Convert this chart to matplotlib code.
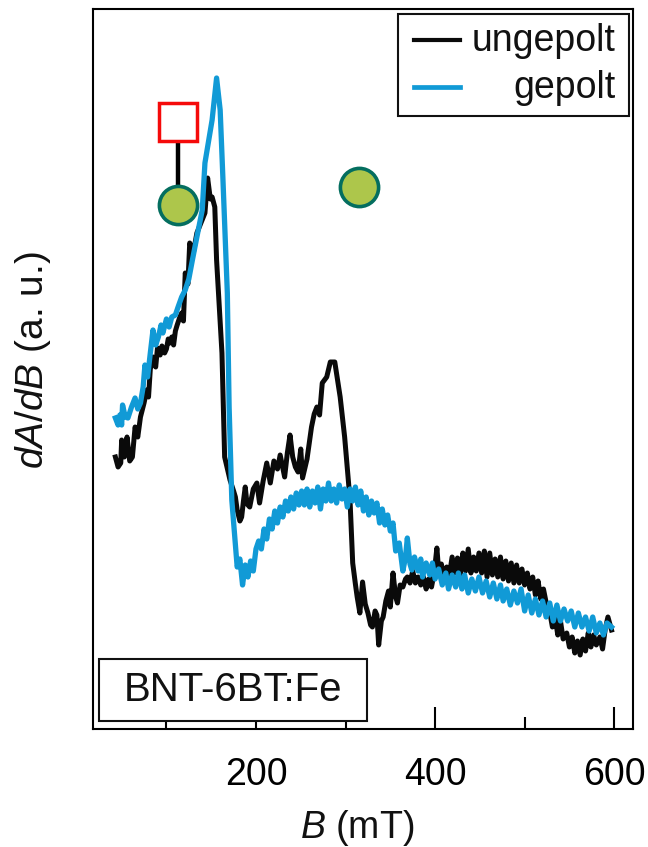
import matplotlib
matplotlib.use('Agg')
import matplotlib.pyplot as plt
from matplotlib.patches import Rectangle

plt.rcParams['font.family'] = ['Liberation Sans', 'DejaVu Sans']
plt.rcParams['mathtext.fontset'] = 'custom'
plt.rcParams['mathtext.rm'] = 'Liberation Sans'
plt.rcParams['mathtext.it'] = 'Liberation Sans:italic'

# values: B in mT, dA/dB in arbitrary units
b_ungepolt = [43, 46, 49, 50, 53, 56, 59, 62, 65, 68, 71, 75, 78, 80, 82, 85, 88, 90, 93, 95, 98, 100, 102, 104, 106, 108, 110, 112,
              115, 117, 119, 121, 124, 126, 130, 134, 138, 143, 146, 149, 151, 154, 156, 162, 165, 171, 175,
              177, 179, 182, 184, 186, 188, 190, 193, 197, 201, 204, 208, 212, 216, 220, 224, 227, 232, 235, 238,
              241, 244, 247, 250, 252, 257, 262, 265, 268, 271, 274, 279, 283, 288, 294, 299, 305, 308, 311, 313,
              316, 319, 322, 325, 328, 330, 333, 335, 337, 340, 342, 345, 348, 350, 353, 356, 358, 361, 364, 367,
              369, 372, 375, 378, 381, 384, 387, 390, 393, 396, 399, 402, 404, 407, 410, 413, 416, 419, 422, 425,
              428, 431, 434, 437, 440, 443, 446, 449, 452, 455, 458, 461, 464, 467, 470, 473, 476, 479, 482, 485,
              488, 491, 494, 497, 500, 503, 506, 509, 512, 515, 518, 521, 525, 529, 531, 534, 537, 540, 543, 547,
              550, 553, 556, 559, 562, 565, 568, 571, 574, 577, 580, 584, 587, 590, 593, 597]
y_ungepolt = [272, 262, 266, 289, 272, 292, 268, 272, 302, 292, 312, 326, 339, 332, 360, 372, 362, 381, 374, 383, 376, 380, 390, 386, 392, 384,
              398, 404, 412, 416, 408, 456, 445, 486, 476, 496, 505, 516, 551, 530, 532, 522, 469, 376, 272, 249, 238,
              232, 219, 208, 212, 228, 242, 225, 222, 240, 246, 226, 248, 266, 246, 268, 260, 274, 252, 276, 294,
              272, 262, 257, 280, 251, 270, 302, 315, 322, 314, 346, 352, 367, 367, 332, 292, 229, 166, 145, 132,
              116, 147, 125, 116, 104, 102, 118, 114, 84, 108, 112, 128, 138, 122, 156, 132, 126, 144, 142, 150,
              152, 146, 158, 146, 152, 144, 152, 140, 150, 142, 156, 181, 158, 165, 150, 162, 154, 172, 156, 171,
              155, 176, 158, 180, 156, 172, 158, 176, 156, 178, 152, 176, 154, 170, 152, 172, 150, 168, 148, 166,
              146, 164, 146, 160, 144, 156, 140, 152, 134, 148, 130, 140, 122, 112, 102, 112, 94, 108, 90, 96,
              82, 92, 76, 88, 74, 90, 78, 96, 82, 94, 84, 92, 80, 100, 112, 99]

b_gepolt = [43, 46, 48, 50, 51, 54, 57, 61, 65, 68, 71, 74, 76, 79, 82, 85, 88, 91, 94, 96, 100, 103, 106, 110, 113, 117, 121, 125, 129,
            134, 140, 143, 151, 156, 160, 163, 168, 170, 173, 179, 182, 185, 188, 191, 194, 197, 200, 203, 206, 209, 212,
            215, 218, 221, 224, 227, 230, 233, 236, 239, 242, 245, 248, 251, 254, 257, 260, 263, 266, 269, 272,
            275, 278, 281, 284, 287, 290, 293, 296, 299, 302, 305, 308, 311, 314, 317, 320, 323, 326, 329, 332,
            335, 338, 341, 344, 347, 350, 353, 356, 360, 364, 367, 369, 372, 374, 377, 381, 384, 386, 390, 394,
            397, 400, 404, 408, 412, 415, 419, 423, 426, 430, 433, 437, 441, 445, 449, 453, 457, 461, 465, 469,
            473, 476, 480, 484, 488, 492, 496, 500, 504, 508, 512, 516, 520, 524, 528, 532, 536, 540, 544, 548,
            552, 556, 560, 564, 568, 572, 576, 580, 584, 588, 592, 597]
y_gepolt = [311, 304, 314, 304, 324, 312, 311, 322, 331, 320, 326, 342, 364, 352, 376, 399, 384, 392, 404, 396, 410, 402, 412, 414, 422, 432, 439, 450, 469,
            492, 519, 566, 609, 651, 619, 552, 436, 322, 229, 162, 170, 144, 164, 152, 168, 158, 180, 188, 180, 200, 190,
            210, 200, 218, 206, 222, 212, 228, 218, 232, 220, 236, 224, 238, 224, 240, 222, 238, 226, 242, 220,
            240, 228, 246, 228, 240, 226, 244, 230, 240, 222, 240, 228, 242, 224, 238, 218, 232, 214, 228, 216,
            226, 206, 220, 204, 214, 198, 206, 178, 186, 158, 172, 191, 165, 159, 172, 158, 170, 152, 166, 154,
            166, 150, 160, 144, 156, 140, 154, 142, 156, 140, 154, 136, 150, 138, 152, 136, 148, 132, 146, 130,
            144, 128, 140, 124, 138, 126, 140, 118, 134, 116, 130, 114, 128, 112, 126, 108, 124, 108, 120, 108,
            118, 102, 116, 102, 112, 98, 112, 96, 106, 94, 106, 102]

legend_labels = ['ungepolt', 'gepolt']
sample_label = 'BNT-6BT:Fe'
major_ticks = [200, 400, 600]
minor_ticks = [100, 300, 500]

W, H = 648, 847
fig = plt.figure(figsize=(W/100, H/100), dpi=100)
ax = fig.add_axes([93/W, 1-729/H, 540/W, 720/H])

ax.plot(b_ungepolt, y_ungepolt, color='#0a0a0a', lw=3.6, solid_joinstyle='round', zorder=2)
ax.plot(b_gepolt, y_gepolt, color='#119ad6', lw=3.8, solid_joinstyle='round', zorder=3)

# pinned site marker and the second site
ax.plot([113, 113], [530, 590], color='k', lw=3.2, zorder=4)
ax.plot([113], [607], 's', ms=27.5, mfc='white', mec='#f50a0a', mew=2.5, zorder=5)
ax.plot([113, 315], [524, 542], 'o', ms=27.5, mfc='#adc64b', mec='#046e5f', mew=2.6, zorder=5)

ax.set_xlim(18, 621)
ax.set_ylim(0, 720)
ax.set_yticks([])
ax.set_xticks(major_ticks)
ax.set_xticks(minor_ticks, minor=True)
ax.tick_params(axis='x', which='major', direction='in', length=16, width=1.5, labelsize=27, pad=20)
ax.tick_params(axis='x', which='minor', direction='in', length=8.5, width=1.5)
for s in ax.spines.values():
    s.set_linewidth(1.5)

# hand placed boxes and texts, given in figure pixels
def fx(px):
    return px/W

def fy(py):
    return 1-py/H

fig.add_artist(Rectangle((fx(98.5), fy(721)), 268.5/W, 62/H, fc='white', ec='#111111', lw=1.5, zorder=6))
fig.text(fx(233), fy(690), sample_label, fontsize=29, ha='center', va='center', color='#111111', zorder=7)

fig.add_artist(Rectangle((fx(398), fy(116)), 231/W, 102/H, fc='white', ec='#111111', lw=1.5, zorder=6))
fig.add_artist(plt.Line2D([fx(414), fx(460)], [fy(40), fy(40)], color='#0a0a0a', lw=3, zorder=7))
fig.add_artist(plt.Line2D([fx(414), fx(460)], [fy(87), fy(87)], color='#119ad6', lw=3.4, zorder=7))
fig.text(fx(616), fy(41), legend_labels[0], fontsize=27, ha='right', va='center', color='#111111', zorder=7)
fig.text(fx(616), fy(88), legend_labels[1], fontsize=27, ha='right', va='center', color='#111111', zorder=7)

fig.text(fx(357), fy(828), r'$B$ (mT)', fontsize=27, ha='center', va='center', color='#111111')
fig.text(fx(33), fy(360), r'$dA/dB$ (a. u.)', fontsize=28, rotation=90, ha='center', va='center', color='#111111')

fig.savefig('out.png', dpi=100)
